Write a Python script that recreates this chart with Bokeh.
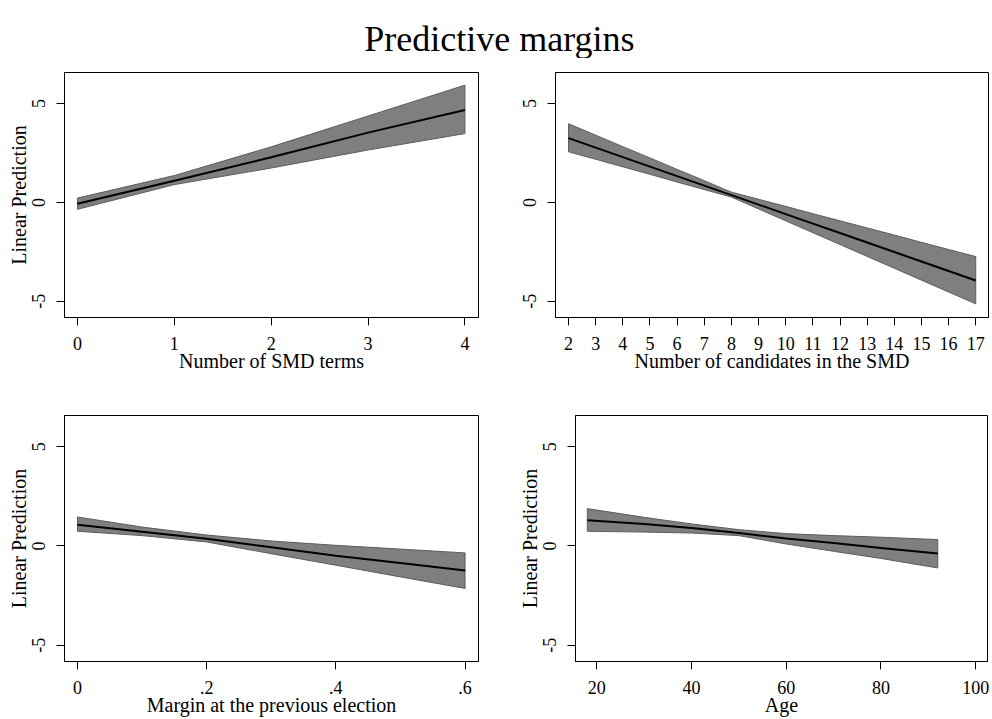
from bokeh.plotting import figure
from bokeh.layouts import column, row
from bokeh.models import FixedTicker, Label, Range1d
from bokeh.embed import file_html
from bokeh.resources import INLINE

FONT = "Liberation Serif"
TITLE = "Predictive margins"
YLABEL = "Linear Prediction"

y_ticks = [-5, 0, 5]
y_tick_labels = ["-5", "0", "5"]

# Panel 1: Number of SMD terms
smd_terms = [0, 1, 2, 3, 4]
smd_fit = [-0.07, 1.10, 2.28, 3.53, 4.67]
smd_hi = [0.22, 1.36, 2.81, 4.37, 5.93]
smd_lo = [-0.35, 0.90, 1.74, 2.65, 3.48]
smd_ticks = [0, 1, 2, 3, 4]
smd_tick_labels = ["0", "1", "2", "3", "4"]

# Panel 2: Number of candidates in the SMD
cand = [2, 3, 4, 5, 6, 7, 8, 9, 10, 11, 12, 13, 14, 15, 16, 17]
cand_fit = [3.25, 2.77, 2.29, 1.81, 1.33, 0.85, 0.37, -0.11, -0.59, -1.07,
            -1.55, -2.03, -2.51, -2.99, -3.47, -3.95]
cand_hi = [3.98, 3.40, 2.82, 2.25, 1.67, 1.10, 0.52, 0.16, -0.20, -0.57,
           -0.93, -1.29, -1.65, -2.02, -2.38, -2.74]
cand_lo = [2.56, 2.18, 1.80, 1.42, 1.03, 0.65, 0.27, -0.33, -0.93, -1.53,
           -2.13, -2.73, -3.33, -3.93, -4.53, -5.13]
cand_ticks = list(range(2, 18))
cand_tick_labels = [str(v) for v in cand_ticks]

# Panel 3: Margin at the previous election
margin = [0.0, 0.1, 0.2, 0.3, 0.4, 0.5, 0.6]
margin_fit = [1.07, 0.72, 0.36, -0.06, -0.49, -0.86, -1.24]
margin_hi = [1.46, 0.95, 0.55, 0.25, 0.03, -0.16, -0.35]
margin_lo = [0.74, 0.52, 0.20, -0.39, -0.97, -1.56, -2.14]
margin_ticks = [0.0, 0.2, 0.4, 0.6]
margin_tick_labels = ["0", ".2", ".4", ".6"]

# Panel 4: Age
age = [18, 30, 40, 50, 60, 70, 80, 92]
age_fit = [1.29, 1.11, 0.90, 0.65, 0.37, 0.15, -0.10, -0.38]
age_hi = [1.88, 1.44, 1.11, 0.82, 0.62, 0.52, 0.44, 0.32]
age_lo = [0.74, 0.70, 0.65, 0.52, 0.10, -0.27, -0.63, -1.11]
age_ticks = [20, 40, 60, 80, 100]
age_tick_labels = ["20", "40", "60", "80", "100"]


def panel(x, fit, hi, lo, xr, xticks, xlabels, xtitle, ylabel,
          width, height, left, right, top, bottom):
    p = figure(width=width, height=height, x_range=Range1d(*xr),
               y_range=Range1d(-5.82, 6.57), output_backend="svg",
               toolbar_location=None, min_border_left=left,
               min_border_right=right, min_border_top=top,
               min_border_bottom=bottom)
    p.grid.visible = False
    p.outline_line_color = "black"
    p.outline_line_width = 1
    p.background_fill_color = "white"
    p.border_fill_color = "white"

    xs = list(x) + list(x)[::-1]
    ys = list(hi) + list(lo)[::-1]
    p.patch(xs, ys, fill_color="#7f7f7f", line_color="#5c5c5c", line_width=1)
    p.line(x, fit, line_color="black", line_width=2)

    p.xaxis.ticker = FixedTicker(ticks=xticks)
    p.xaxis.major_label_overrides = dict(zip(xticks, xlabels))
    p.yaxis.ticker = FixedTicker(ticks=y_ticks)
    p.yaxis.major_label_overrides = dict(zip(y_ticks, y_tick_labels))
    p.yaxis.major_label_orientation = "vertical"

    for ax in (p.xaxis, p.yaxis):
        ax.axis_line_color = "black"
        ax.major_tick_line_color = "black"
        ax.major_tick_out = 8
        ax.major_tick_in = 0
        ax.minor_tick_line_color = None
        ax.major_label_text_font = FONT
        ax.major_label_text_font_size = "18px"
        ax.major_label_text_color = "black"
        ax.axis_label_text_font = FONT
        ax.axis_label_text_font_size = "20px"
        ax.axis_label_text_font_style = "normal"
        ax.axis_label_text_color = "black"
    p.xaxis.major_label_standoff = 11
    p.yaxis.major_label_standoff = 11
    p.xaxis.axis_label_standoff = -3
    p.yaxis.axis_label_standoff = 0
    p.xaxis.axis_label = xtitle
    if ylabel:
        p.yaxis.axis_label = ylabel
    return p


title_fig = figure(width=992, height=58, x_range=Range1d(0, 1),
                   y_range=Range1d(0, 1), output_backend="svg",
                   toolbar_location=None, min_border=0)
title_fig.axis.visible = False
title_fig.grid.visible = False
title_fig.outline_line_color = None
title_fig.add_layout(Label(x=0.503, y=1 - 38.3 / 58, text=TITLE,
                           text_align="center", text_baseline="alphabetic",
                           text_font=FONT, text_font_size="36px",
                           text_color="black"))

p1 = panel(smd_terms, smd_fit, smd_hi, smd_lo, (-0.134, 4.14), smd_ticks,
           smd_tick_labels, "Number of SMD terms", YLABEL,
           496, 325, 64, 18, 13, 66)
p2 = panel(cand, cand_fit, cand_hi, cand_lo, (1.52, 17.47), cand_ticks,
           cand_tick_labels, "Number of candidates in the SMD", None,
           496, 325, 59, 4, 14, 66)
p3 = panel(margin, margin_fit, margin_hi, margin_lo, (-0.0201, 0.6208),
           margin_ticks, margin_tick_labels, "Margin at the previous election",
           YLABEL, 496, 335, 64, 18, 32, 57)
p4 = panel(age, age_fit, age_hi, age_lo, (15.5, 102.5), age_ticks,
           age_tick_labels, "Age", YLABEL, 496, 335, 79, 5, 32, 57)

layout = column(title_fig, row(p1, p2), row(p3, p4))

with open("out.html", "w") as f:
    f.write(file_html(layout, INLINE))
